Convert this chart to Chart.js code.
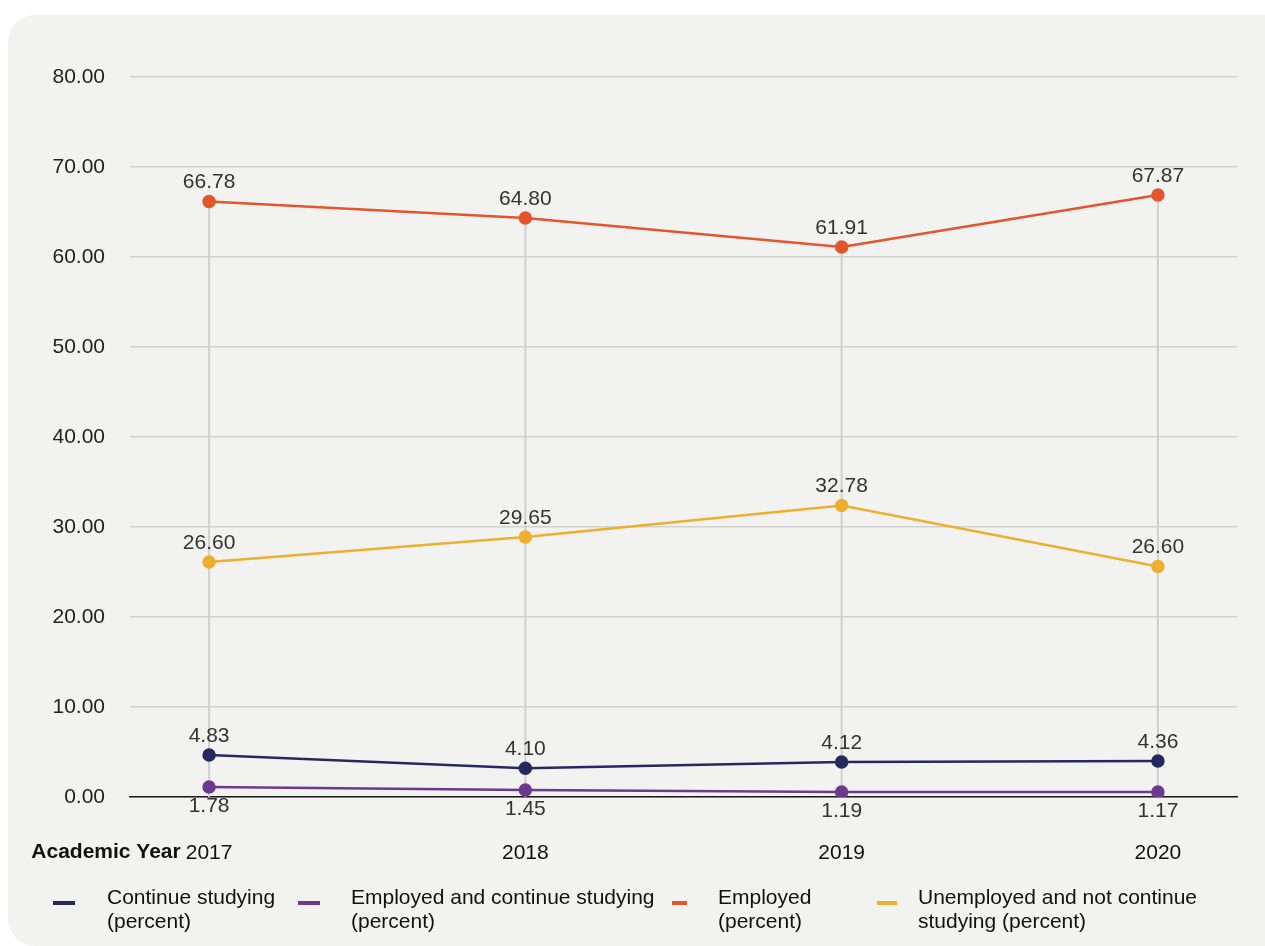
<!DOCTYPE html>
<html>
<head>
<meta charset="utf-8">
<script src="https://cdn.jsdelivr.net/npm/chart.js@4.4.1/dist/chart.umd.min.js"></script>
<style>
  body { margin: 0; background: #fff; font-family: "Liberation Sans", Arial, sans-serif; overflow: hidden; }
  #card { position: absolute; left: 8px; top: 15px; width: 1300px; height: 931px; border-radius: 27px; background: #f2f2f0; }
  #chartWrap { position: absolute; left: 0; top: 0; width: 1265px; height: 946px; }
  #legend { position: absolute; left: 0; top: 885px; width: 1265px; height: 60px; }
  .mark { position: absolute; top: 901px; height: 4px; }
  .txt { position: absolute; top: 885px; white-space: nowrap; font-size: 21px; line-height: 24px; color: #111; }
</style>
</head>
<body>
<div id="card"></div>
<div id="chartWrap"><canvas id="YearChart" width="1265" height="946"></canvas></div>
<div id="legendBox"></div>
<script>
var years = ["2017", "2018", "2019", "2020"];

// plotted values as read from the point positions
var continueStudying = [4.67, 3.2, 3.9, 4.0];
var employedContinue = [1.1, 0.78, 0.55, 0.55];
var employed = [66.17, 64.33, 61.1, 66.9];
var unemployed = [26.1, 28.9, 32.4, 25.6];

// value labels printed next to the points
var continueStudyingLabels = ["4.83", "4.10", "4.12", "4.36"];
var employedContinueLabels = ["1.78", "1.45", "1.19", "1.17"];
var employedLabels = ["66.78", "64.80", "61.91", "67.87"];
var unemployedLabels = ["26.60", "29.65", "32.78", "26.60"];

var seriesNames = [
  ["Continue studying", "(percent)"],
  ["Employed and continue studying", "(percent)"],
  ["Employed", "(percent)"],
  ["Unemployed and not continue", "studying (percent)"],
];
var seriesColors = ["#262860", "#6b3a8e", "#e4552b", "#eeae2e"];

// legend layout (marker left, marker width, text left)
var markLeft = [53, 298, 672, 877];
var markWidth = [22, 22, 15, 20];
var textLeft = [107, 351, 718, 918];

const FONT = "'Liberation Sans', Arial, sans-serif";
const FS = 21;

function makeSet(i, values, labels, pos) {
  return {
    label: seriesNames[i].join(" "),
    data: values.map((v, k) => ({ x: k, y: v })),
    valueLabels: labels,
    labelPos: pos,
    borderColor: seriesColors[i],
    backgroundColor: seriesColors[i],
    borderWidth: 2.5,
    pointRadius: 5.5,
    pointHoverRadius: 5.5,
    tension: 0,
  };
}

// vertical lines from the highest point down to the axis
const dropLines = {
  id: "dropLines",
  beforeDatasetsDraw(chart) {
    const ctx = chart.ctx;
    const xs = chart.scales.x, ys = chart.scales.y;
    ctx.save();
    ctx.strokeStyle = "#d0d0d0";
    ctx.lineWidth = 2;
    years.forEach((yr, i) => {
      let top = Infinity;
      chart.data.datasets.forEach((ds) => {
        top = Math.min(top, ys.getPixelForValue(ds.data[i].y));
      });
      const x = xs.getPixelForValue(i);
      ctx.beginPath();
      ctx.moveTo(x, top);
      ctx.lineTo(x, ys.getPixelForValue(0));
      ctx.stroke();
    });
    ctx.restore();
  },
};

const valueLabels = {
  id: "valueLabels",
  afterDatasetsDraw(chart) {
    const ctx = chart.ctx;
    ctx.save();
    ctx.font = FS + "px " + FONT;
    ctx.fillStyle = "#333";
    ctx.textAlign = "center";
    ctx.textBaseline = "middle";
    chart.data.datasets.forEach((ds, d) => {
      const meta = chart.getDatasetMeta(d);
      meta.data.forEach((pt, i) => {
        const off = ds.labelPos === "below" ? 19 : -19;
        ctx.fillText(ds.valueLabels[i], pt.x, pt.y + off);
      });
    });
    ctx.restore();
  },
};

const axisTitle = {
  id: "axisTitle",
  afterDraw(chart) {
    const ctx = chart.ctx;
    const xs = chart.scales.x;
    ctx.save();
    ctx.font = FS + "px " + FONT;
    const w = ctx.measureText(years[0]).width;
    ctx.font = "bold " + FS + "px " + FONT;
    ctx.fillStyle = "#111";
    ctx.textAlign = "right";
    ctx.textBaseline = "middle";
    ctx.fillText("Academic Year", xs.getPixelForValue(0) - w / 2 - 5, chart.chartArea.bottom + 55);
    ctx.restore();
  },
};

const config_Year = {
  type: "line",
  data: {
    datasets: [
      makeSet(0, continueStudying, continueStudyingLabels, "above"),
      makeSet(1, employedContinue, employedContinueLabels, "below"),
      makeSet(2, employed, employedLabels, "above"),
      makeSet(3, unemployed, unemployedLabels, "above"),
    ],
  },
  options: {
    responsive: false,
    animation: false,
    layout: { padding: { left: 0, right: 28, top: 77, bottom: 0 } },
    scales: {
      x: {
        type: "linear",
        min: -0.25,
        max: 3.25,
        grid: { display: false, drawTicks: false },
        border: { display: true, color: "#1a1a1a", width: 1.5 },
        ticks: {
          stepSize: 1,
          includeBounds: false,
          padding: 44,
          color: "#111",
          font: { family: FONT, size: FS },
          callback: (v) => years[v] || "",
        },
        afterFit: (s) => { s.height = 149; },
      },
      y: {
        min: 0,
        max: 80,
        grid: { color: "#d2d2d2", lineWidth: 1.5, drawTicks: false },
        border: { display: false },
        ticks: {
          stepSize: 10,
          padding: 25,
          color: "#222",
          font: { family: FONT, size: FS },
          callback: (v) => v.toFixed(2),
        },
        afterFit: (s) => { s.width = 130; },
      },
    },
    plugins: {
      legend: { display: false },
      tooltip: { enabled: false },
    },
  },
  plugins: [dropLines, valueLabels, axisTitle],
};

const YearChart = new Chart(document.getElementById("YearChart"), config_Year);

// legend
const legendBox = document.getElementById("legendBox");
seriesNames.forEach((name, i) => {
  const mark = document.createElement("div");
  mark.className = "mark";
  mark.style.left = markLeft[i] + "px";
  mark.style.width = markWidth[i] + "px";
  mark.style.background = seriesColors[i];
  legendBox.appendChild(mark);
  const txt = document.createElement("div");
  txt.className = "txt";
  txt.style.left = textLeft[i] + "px";
  txt.innerHTML = name[0] + "<br>" + name[1];
  legendBox.appendChild(txt);
});
</script>
</body>
</html>
